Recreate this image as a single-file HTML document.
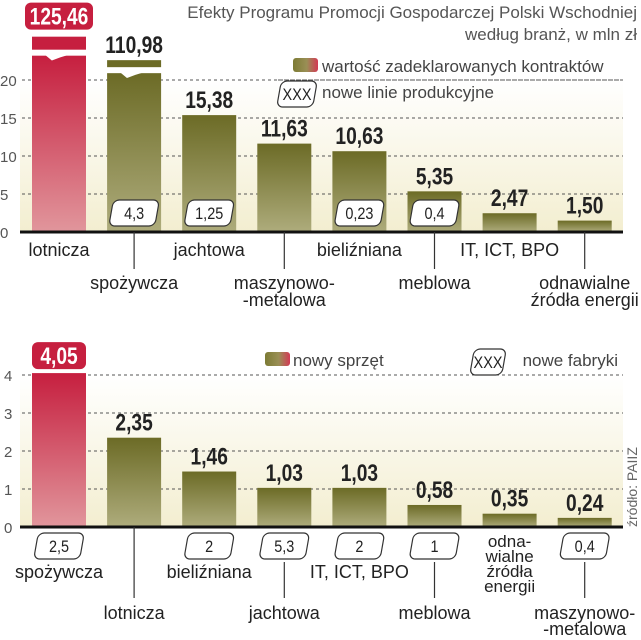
<!DOCTYPE html>
<html><head><meta charset="utf-8">
<style>
html,body{margin:0;padding:0;background:#fff;}
svg{display:block;font-family:"Liberation Sans",sans-serif;}
.num{font-family:"Liberation Sans",sans-serif;font-weight:bold;}
.lbl{font-family:"Liberation Sans",sans-serif;}
</style></head>
<body>
<svg id="chart" width="641" height="640" viewBox="0 0 641 640" xmlns="http://www.w3.org/2000/svg">
<defs>
<linearGradient id="gRed" x1="0" y1="0" x2="0" y2="1"><stop offset="0" stop-color="#c61f3f"/><stop offset="1" stop-color="#e1969c"/></linearGradient>
<linearGradient id="gOl" x1="0" y1="0" x2="0" y2="1"><stop offset="0" stop-color="#6c6b26"/><stop offset="1" stop-color="#aeac7c"/></linearGradient>
<linearGradient id="gBg" x1="0" y1="0" x2="0" y2="1"><stop offset="0" stop-color="#ffffff"/><stop offset="1" stop-color="#f3eed0"/></linearGradient>
<linearGradient id="gSw" x1="0" y1="0" x2="1" y2="0"><stop offset="0" stop-color="#7c7b34"/><stop offset="0.55" stop-color="#9a8f56"/><stop offset="1" stop-color="#d33a55"/></linearGradient>
</defs>
<text x="637" y="18" text-anchor="end" font-size="17" fill="#555">Efekty Programu Promocji Gospodarczej Polski Wschodniej</text>
<text x="637" y="40" text-anchor="end" font-size="17" fill="#555">według branż, w mln zł</text>
<g id="top"></g>
<g id="bot"></g>
<text transform="translate(637,527) rotate(-90)" font-size="14" fill="#666">źródło: PAIIZ</text>
</svg>
<script>
// ---- top chart data
const topCats = ["lotnicza","spożywcza","jachtowa","maszynowo-metalowa","bieliźniana","meblowa","IT, ICT, BPO","odnawialne źródła energii"];
const topValues = [125.46,110.98,15.38,11.63,10.63,5.35,2.47,1.50];
const topLabels = ["125,46","110,98","15,38","11,63","10,63","5,35","2,47","1,50"];
const topLineIdx = [1,2,4,5];
const topLineVals = ["4,3","1,25","0,23","0,4"];
const topTicks = [0,5,10,15,20];
// ---- bottom chart data
const botCats = ["spożywcza","lotnicza","bieliźniana","jachtowa","IT, ICT, BPO","meblowa","odnawialne źródła energii","maszynowo-metalowa"];
const botValues = [4.05,2.35,1.46,1.03,1.03,0.58,0.35,0.24];
const botLabels = ["4,05","2,35","1,46","1,03","1,03","0,58","0,35","0,24"];
const botFactIdx = [0,2,3,4,5,7];
const botFactVals = ["2,5","2","5,3","2","1","0,4"];
const botTicks = [0,1,2,3,4];

const NS="http://www.w3.org/2000/svg";
function mk(parent,tag,attrs,text){const e=document.createElementNS(NS,tag);for(const k in attrs)e.setAttribute(k,attrs[k]);if(text!=null)e.textContent=text;parent.appendChild(e);return e;}
const x0=32, step=75.1, bw=54;
function bx(i){return x0+i*step;}
function cx(i){return bx(i)+bw/2;}
function numText(g,x,y,s,size,fill,sx){
  return mk(g,'text',{x:0,y:0,transform:`translate(${x},${y}) scale(${sx||0.8},1)`,'text-anchor':'middle','font-size':size,fill:fill,class:'num'},s);
}

function box(g,cxp,y,w,txt,name){
  const h=26;
  const r=mk(g,'rect',{x:cxp-w/2,y:y,width:w,height:h,rx:6,fill:'#fff',stroke:'#333','stroke-width':1.2,transform:`skewX(-10) translate(${(y+h/2)*Math.tan(10*Math.PI/180)},0)`});
  
  
  const t=mk(g,'text',{x:0,y:0,transform:`translate(${cxp},${y+19}) scale(0.85,1)`,'text-anchor':'middle','font-size':17,fill:'#222',class:'lbl'},txt);
  
  
}

// ===== TOP CHART =====
(function(){
  const g=document.getElementById('top');
  const base=232, k=7.6, cap=22;
  const y=v=>base-v*k;
  const bg=mk(g,'rect',{x:20,y:y(20),width:603,height:base-y(20),fill:'url(#gBg)'});
  
  
  topTicks.forEach(t=>{
    if(t>0){const l=mk(g,'line',{x1:22,x2:623,y1:y(t),y2:y(t),stroke:'#555','stroke-width':1,'stroke-dasharray':'3,3'});
      
      }
    const tx=mk(g,'text',{x:0,y:y(t)+6,'font-size':15,fill:'#555'},String(t));
    
    
  });
  const gl=mk(g,'line',{x1:278,x2:623,y1:80,y2:80,stroke:'#555','stroke-width':1,'stroke-dasharray':'3,3'});
  
  
  const maxV=Math.max(...topValues);
  topValues.forEach((v,i)=>{
    const fill=i===0?'url(#gRed)':'url(#gOl)';
    const solid=i===0?'#c61f3f':'#6c6b26';
    if(v>cap){
      const isMax = v>=maxV;
      const mainTop = isMax? y(23.2): y(20.9);
      const r=mk(g,'rect',{x:bx(i),y:mainTop,width:bw,height:base-mainTop,fill:fill});
      
      
      const segH = isMax?13:7;
      const seg=mk(g,'rect',{x:bx(i),y:mainTop-6-segH,width:bw,height:segH,fill:solid});
      
      
      const w=mk(g,'path',{d:`M${bx(i)+14},${mainTop-1} L${bx(i)+20},${mainTop+4} L${bx(i)+28},${mainTop+1} L${bx(i)+38},${mainTop-2} Z`,fill:'#fff',stroke:'#fff','stroke-width':1.5});
      
      
      const segTop = mainTop-6-segH;
      if(isMax){
        const lb=mk(g,'rect',{x:cx(i)-34,y:segTop-34,width:68,height:27,rx:6,fill:'#c61f3f'});
        
        
        const t=numText(g,cx(i),segTop-12,topLabels[i],24,'#fff');
        
        
      } else {
        const t=numText(g,cx(i),segTop-7,topLabels[i],24,'#222');
        
        
      }
    } else {
      const r=mk(g,'rect',{x:bx(i),y:y(v),width:bw,height:base-y(v),fill:fill});
      
      
      const t=numText(g,cx(i),y(v)-7,topLabels[i],24,'#222');
      
      
    }
  });
  topLineIdx.forEach((bi,j)=>box(g,cx(bi),200,46,topLineVals[j],'top-production-lines-label'));
  const ax=mk(g,'line',{x1:20,x2:623,y1:base,y2:base,stroke:'#111','stroke-width':3});
  
  
  const rows=[[0,'lotnicza'],[2,'jachtowa'],[4,'bieliźniana'],[6,'IT, ICT, BPO']];
  rows.forEach(([i,s])=>{const t=mk(g,'text',{x:cx(i),y:256,'text-anchor':'middle','font-size':18,fill:'#222',class:'lbl'},s);
    
    });
  const rows2=[[1,['spożywcza']],[3,['maszynowo-','-metalowa']],[5,['meblowa']],[7,['odnawialne','źródła energii']]];
  rows2.forEach(([i,arr])=>{
    const xc=bx(i)+bw/2;
    const l=mk(g,'line',{x1:xc,x2:xc,y1:base,y2:269,stroke:'#333','stroke-width':1.2});
    
    
    arr.forEach((s,k2)=>{const t=mk(g,'text',{x:xc,y:289+k2*17,'text-anchor':'middle','font-size':18,fill:'#222',class:'lbl'},s);
      
      });
  });
  const sw=mk(g,'rect',{x:293,y:58,width:25,height:14,rx:3,fill:'url(#gSw)'});
  
  
  const lt=mk(g,'text',{x:322,y:72,'font-size':17,fill:'#444'},'wartość zadeklarowanych kontraktów');
  
  
  box(g,297,81,36,'XXX','legend-production-lines-symbol');
  const lt2=mk(g,'text',{x:322,y:98,'font-size':17,fill:'#444'},'nowe linie produkcyjne');
  
  
})();

// ===== BOTTOM CHART =====
(function(){
  const g=document.getElementById('bot');
  const base=527, k=38;
  const y=v=>base-v*k;
  const bg=mk(g,'rect',{x:20,y:y(4),width:603,height:base-y(4),fill:'url(#gBg)'});
  
  
  botTicks.forEach(t=>{
    if(t>0){const l=mk(g,'line',{x1:22,x2:623,y1:y(t),y2:y(t),stroke:'#555','stroke-width':1,'stroke-dasharray':'3,3'});
      
      }
    const tx=mk(g,'text',{x:4,y:y(t)+6,'font-size':15,fill:'#555'},String(t));
    
    
  });
  botValues.forEach((v,i)=>{
    const fill=i===0?'url(#gRed)':'url(#gOl)';
    const r=mk(g,'rect',{x:bx(i),y:y(v),width:bw,height:base-y(v),fill:fill});
    
    
    if(i===0){
      const lb=mk(g,'rect',{x:cx(i)-27,y:y(v)-31,width:54,height:27,rx:6,fill:'#c61f3f'});
      
      
      const t=numText(g,cx(i),y(v)-9,botLabels[i],24,'#fff');
      
      
    } else {
      const t=numText(g,cx(i),y(v)-7,botLabels[i],24,'#222');
      
      
    }
  });
  const ax=mk(g,'line',{x1:20,x2:623,y1:base,y2:base,stroke:'#111','stroke-width':3});
  
  
  botFactIdx.forEach((bi,j)=>box(g,cx(bi),533,46,botFactVals[j],'bottom-new-factories-label'));
  const rows=[[0,'spożywcza'],[2,'bieliźniana'],[4,'IT, ICT, BPO']];
  rows.forEach(([i,s])=>{const t=mk(g,'text',{x:cx(i),y:578,'text-anchor':'middle','font-size':18,fill:'#222',class:'lbl'},s);
    
    });
  ['odna-','wialne','źródła','energii'].forEach((s,k2)=>{const t=mk(g,'text',{x:cx(6),y:547+k2*15,'text-anchor':'middle','font-size':17,fill:'#222',class:'lbl'},s);
    
    });
  const rows2=[[1,['lotnicza'],base],[3,['jachtowa'],562],[5,['meblowa'],562],[7,['maszynowo-','-metalowa'],562]];
  rows2.forEach(([i,arr,y1])=>{
    const xc=cx(i);
    const l=mk(g,'line',{x1:xc,x2:xc,y1:y1,y2:598,stroke:'#333','stroke-width':1.2});
    
    
    arr.forEach((s,k2)=>{const t=mk(g,'text',{x:xc,y:619+k2*16,'text-anchor':'middle','font-size':18,fill:'#222',class:'lbl'},s);
      
      });
  });
  const sw=mk(g,'rect',{x:265,y:352,width:25,height:14,rx:3,fill:'url(#gSw)'});
  
  
  const lt=mk(g,'text',{x:293,y:366,'font-size':17,fill:'#444'},'nowy sprzęt');
  
  
  box(g,488,349,32,'XXX','legend-new-factories-symbol');
  const lt2=mk(g,'text',{x:618,y:366,'text-anchor':'end','font-size':17,fill:'#444'},'nowe fabryki');
  
  
})();
</script>
</body></html>
